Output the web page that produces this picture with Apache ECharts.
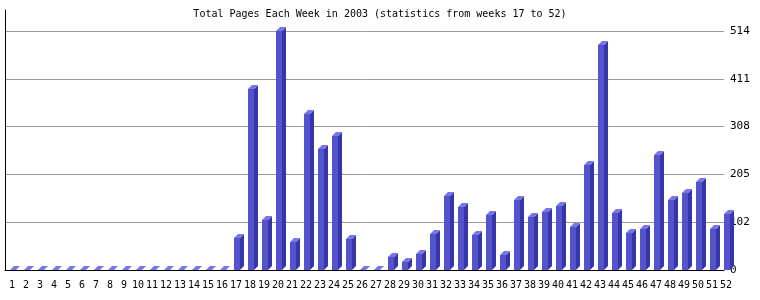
<!DOCTYPE html>
<html>
<head>
<meta charset="utf-8">
<script src="https://cdn.jsdelivr.net/npm/echarts@6/dist/echarts.min.js"></script>
<style>html,body{margin:0;padding:0;background:#fff;}#c{width:760px;height:300px;}</style>
</head>
<body>
<div id="c"></div>
<script>
const titleText = 'Total Pages Each Week in 2003 (statistics from weeks 17 to 52)';
const weeks = ['1','2','3','4','5','6','7','8','9','10','11','12','13','14','15','16','17','18','19','20','21','22','23','24','25','26','27','28','29','30','31','32','33','34','35','36','37','38','39','40','41','42','43','44','45','46','47','48','49','50','51','52'];
const pages = [0,0,0,0,0,0,0,0,0,0,0,0,0,0,0,0,
  69,389,108,514,61,336,260,288,67,0,0,28,17,35,78,160,135,75,118,32,150,115,125,138,92,226,484,123,80,88,247,150,165,189,88,120];
const yMax = 514;
const yInterval = 102.8;

const FRONT = '#5353cc', SIDE = '#3636a8', TOP = '#7676ea';
const D = 4; // depth in px

const chart = echarts.init(document.getElementById('c'));
chart.setOption({
  animation: false,
  backgroundColor: '#fff',
  title: {
    text: titleText, left: 'center', top: 4,
    textStyle: {fontFamily: 'DejaVu Sans Mono', fontSize: 10, fontWeight: 'normal', color: '#000'}
  },
  grid: [
    {left: 5, right: 36, top: 31, bottom: 30},
    {left: 5, width: 728, top: 10, bottom: 30}
  ],
  xAxis: [
    {gridIndex: 0, type: 'value', min: 0, max: 1, axisLine: {show: true, onZero: false, lineStyle: {color: '#000', width: 1}},
     axisTick: {show: false}, axisLabel: {show: false}, splitLine: {show: false}},
    {gridIndex: 1, type: 'category', data: weeks, axisLine: {show: false}, axisTick: {show: false},
     axisLabel: {interval: 0, margin: 10, fontFamily: 'DejaVu Sans Mono', fontSize: 10, color: '#000'}}
  ],
  yAxis: [
    {gridIndex: 0, type: 'value', position: 'right', min: 0, max: yMax, interval: yInterval,
     axisLine: {show: false}, axisTick: {show: false},
     axisLabel: {margin: 6, fontFamily: 'DejaVu Sans Mono', fontSize: 11, color: '#000', formatter: v => String(Math.floor(v + 1e-6))},
     splitLine: {show: true, lineStyle: {color: '#999', width: 1}}},
    {gridIndex: 1, type: 'value', position: 'left', min: 0, max: yMax * 260 / 239,
     axisLine: {show: true, lineStyle: {color: '#000', width: 1}}, axisTick: {show: false},
     axisLabel: {show: false}, splitLine: {show: false}}
  ],
  series: [{
    type: 'custom', xAxisIndex: 1, yAxisIndex: 1,
    data: pages.map((v, i) => [i, v]),
    renderItem: function (params, api) {
      const i = api.value(0), v = api.value(1);
      const p0 = api.coord([i, 0]);
      const p1 = api.coord([i, v]);
      const cx = Math.round(p0[0]);
      const base = Math.round(p0[1]);
      const top = Math.round(p1[1]);
      const l = cx - 2, r = cx + 4;
      return {
        type: 'group',
        children: [
          {type: 'rect', shape: {x: l, y: top, width: r - l, height: base - top}, style: {fill: FRONT}},
          {type: 'polygon', shape: {points: [[r, base], [r + D, base - D], [r + D, top - D], [r, top]]}, style: {fill: SIDE}},
          {type: 'polygon', shape: {points: [[l, top], [l + D, top - D], [r + D, top - D], [r, top]]}, style: {fill: TOP}}
        ]
      };
    }
  }]
});
</script>
</body>
</html>
